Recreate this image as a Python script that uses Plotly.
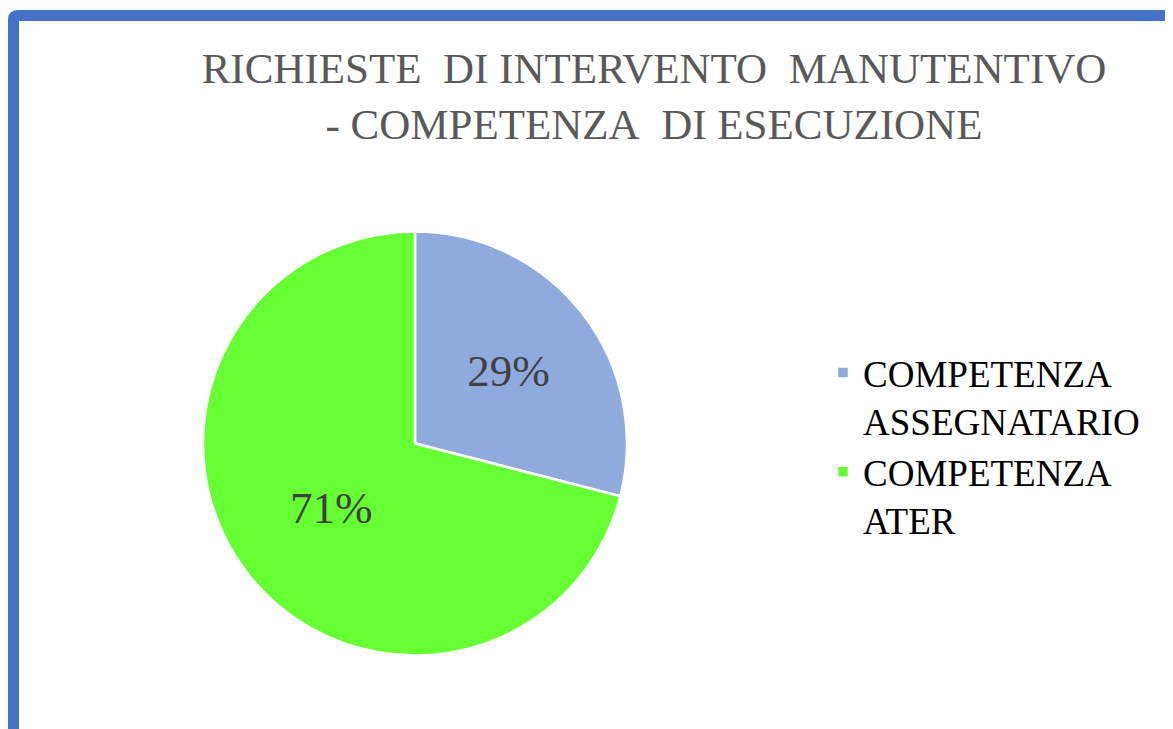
import plotly.graph_objects as go

# data
labels = ["COMPETENZA<br>ASSEGNATARIO", "COMPETENZA<br>ATER"]
values = [29, 71]
colors = ["#8FAADC", "#66FF33"]

title_lines = ["RICHIESTE  DI INTERVENTO  MANUTENTIVO", "- COMPETENZA  DI ESECUZIONE"]

W, H = 1173, 729
OFF = 8  # page body margin shifts the figure by 8px
serif = "Liberation Serif, Times New Roman, serif"


def px(x):
    return (x - OFF) / W


def py(y):
    return 1 - (y - OFF) / H


fig = go.Figure(
    go.Pie(
        labels=labels,
        values=values,
        sort=False,
        direction="clockwise",
        rotation=0,
        marker=dict(colors=colors, line=dict(color="white", width=2.5)),
        texttemplate="%{percent:.0%}",
        textposition="inside",
        insidetextorientation="horizontal",
        textfont=dict(family=serif, size=45, color="#404040"),
        domain=dict(x=[px(203), px(627)], y=[py(657), py(230)]),
        hoverinfo="label+percent",
    )
)

fig.update_layout(
    width=W,
    height=H,
    margin=dict(l=0, r=0, t=0, b=0),
    paper_bgcolor="white",
    plot_bgcolor="white",
    title=dict(
        text="<br>".join(t.replace("  ", "\u00a0 ") for t in title_lines),
        x=646 / W,
        xanchor="center",
        y=1 - 75 / H,
        yanchor="top",
        font=dict(family=serif, size=43, color="#595959"),
    ),
    legend=dict(
        x=815 / W,
        y=1 - 334 / H,
        xanchor="left",
        yanchor="top",
        valign="top",
        font=dict(family=serif, size=37, color="black"),
        bgcolor="rgba(0,0,0,0)",
    ),
    showlegend=True,
)

# frame around the chart area (only top and left edges fall inside the view)
x0, y0 = 13.5, 15.5
r = 4
fig.add_shape(
    type="path",
    xref="paper",
    yref="paper",
    path=(
        f"M {px(x0)},{-0.05} L {px(x0)},{py(y0 + r)} "
        f"Q {px(x0)},{py(y0)} {px(x0 + r)},{py(y0)} "
        f"L {1.05},{py(y0)}"
    ),
    line=dict(color="#4472C4", width=11),
)

fig.write_html("out.html")
